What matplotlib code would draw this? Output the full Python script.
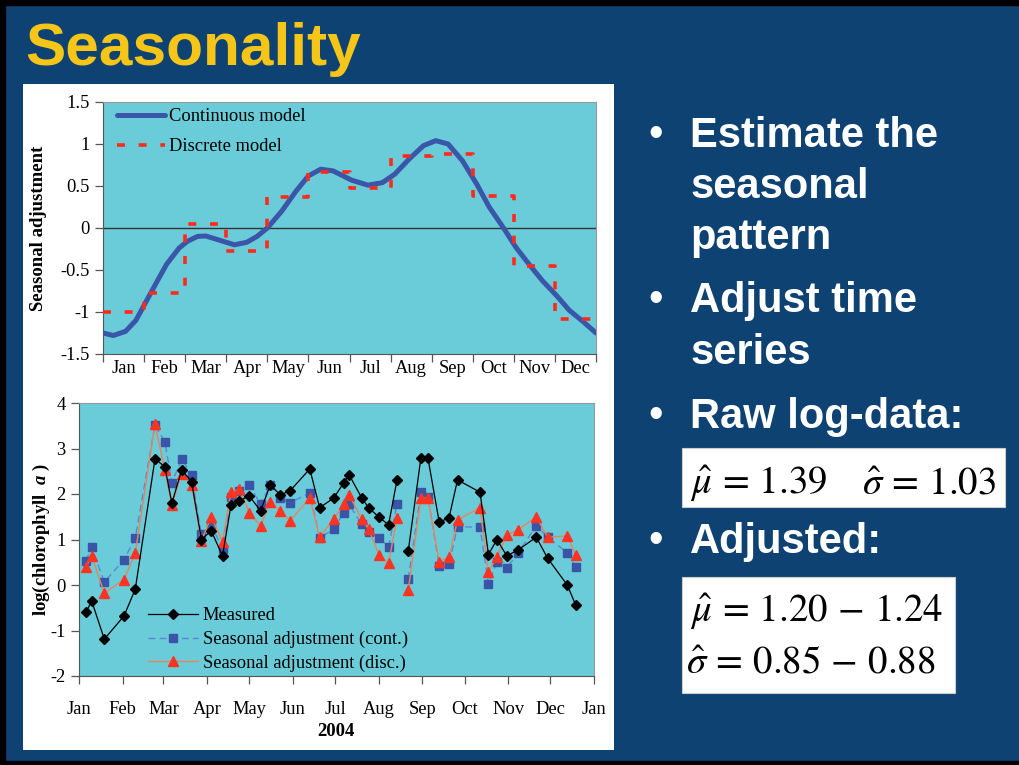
import matplotlib
matplotlib.use("Agg")
import matplotlib.pyplot as plt
import numpy as np
from matplotlib.patches import Rectangle

W, H = 1019, 765

SLIDE_BLUE = "#0E4273"
PLOT_CYAN = "#6ACCD8"
SERIF = "Liberation Serif"
SANS = "Liberation Sans"

MONTHS = ["Jan", "Feb", "Mar", "Apr", "May", "Jun",
          "Jul", "Aug", "Sep", "Oct", "Nov", "Dec"]

# --- top panel: seasonal pattern (x in months since 1 Jan) ---
SEAS_YTICKS = [-1.5, -1, -0.5, 0, 0.5, 1, 1.5]
SEAS_YLABELS = ["-1.5", "-1", "-0.5", "0", "0.5", "1", "1.5"]
CONT_X = [0.0, 0.25, 0.55, 0.8, 1.0, 1.3, 1.55, 1.85, 2.05, 2.3, 2.5, 2.8,
          3.2, 3.5, 3.75, 4.0, 4.35, 4.7, 5.0, 5.3, 5.6, 6.05, 6.45, 6.8,
          7.1, 7.45, 7.8, 8.1, 8.4, 8.75, 9.1, 9.4, 9.75, 10.05, 10.4, 10.7,
          11.05, 11.35, 11.7, 12.0]
CONT_Y = [-1.25, -1.28, -1.23, -1.10, -0.92, -0.65, -0.43, -0.24, -0.16, -0.10,
          -0.095, -0.14, -0.20, -0.17, -0.10, 0.0, 0.20, 0.44, 0.62, 0.70,
          0.68, 0.57, 0.51, 0.54, 0.64, 0.82, 0.98, 1.04, 1.00, 0.80,
          0.52, 0.25, 0.0, -0.23, -0.45, -0.63, -0.81, -0.98, -1.12, -1.25]
DISC_Y = [-1.0, -0.77, 0.05, -0.27, 0.37, 0.67, 0.48, 0.86, 0.88, 0.38, -0.45, -1.08]

# --- bottom panel: log chlorophyll a, 2004 (x = day of year) ---
MONTH_START = [0, 31, 60, 91, 121, 152, 182, 213, 244, 274, 305, 335, 366]
MONTH_TICKLABELS = MONTHS + ["Jan"]
DAYS = [5, 9, 18, 32, 40, 54, 61, 66, 73, 80, 87, 94, 102, 108, 114, 121, 129,
        136, 143, 150, 164, 171, 181, 188, 192, 201, 206, 213, 220, 226,
        234, 243, 248, 256, 263, 269, 285, 291, 297, 304, 312, 325, 333, 347, 353]
MEASURED = [-0.60, -0.35, -1.19, -0.68, -0.09, 2.77, 2.60, 1.80, 2.53, 2.27,
            1.00, 1.19, 0.64, 1.75, 1.85, 1.96, 1.63, 2.20, 1.98, 2.07, 2.55,
            1.70, 1.91, 2.24, 2.42, 1.91, 1.69, 1.50, 1.32, 2.31,
            0.75, 2.80, 2.79, 1.38, 1.48, 2.31, 2.04, 0.67, 1.00, 0.64, 0.77,
            1.05, 0.59, 0.0, -0.44]
ADJ_CONT = [0.53, 0.83, 0.06, 0.56, 1.03, 3.52, 3.15, 2.25, 2.77, 2.42,
            1.11, 1.32, 0.79, 1.94, 2.07, 2.19, 1.78, 2.20, 1.92, 1.81, 2.02,
            1.04, 1.22, 1.58, 1.77, 1.33, 1.16, 1.04, 0.84, 1.78,
            0.13, 2.04, 1.94, 0.42, 0.46, 1.28, 1.27, 0.02, 0.51, 0.37, 0.71,
            1.30, 1.05, 0.71, 0.40]
ADJ_DISC = [0.40, 0.64, -0.18, 0.12, 0.70, 3.54, 2.53, 1.75, 2.45, 2.20,
            0.97, 1.50, 0.95, 2.05, 2.11, 1.59, 1.30, 1.82, 1.63, 1.41, 1.91,
            1.06, 1.44, 1.77, 1.98, 1.44, 1.22, 0.67, 0.48, 1.48,
            -0.11, 1.91, 1.91, 0.51, 0.61, 1.43, 1.70, 0.29, 0.62, 1.10, 1.21,
            1.50, 1.05, 1.08, 0.66]
GAP = 30  # no samples between late Aug and early Sep
CHL_YTICKS = [-2, -1, 0, 1, 2, 3, 4]

BULLETS = [("Estimate the", 147, True), ("seasonal", 198, False), ("pattern", 249, False),
           ("Adjust time", 312, True), ("series", 364, False),
           ("Raw log-data:", 428, True), ("Adjusted:", 553, True)]

plt.rcParams["axes.unicode_minus"] = False
plt.rcParams["mathtext.fontset"] = "custom"
plt.rcParams["mathtext.it"] = "Liberation Serif:italic:bold"
plt.rcParams["mathtext.rm"] = "Liberation Serif:bold"


def fx(x):
    return x / W


def fy(y):
    return 1 - y / H


def style_axes(ax):
    ax.set_facecolor(PLOT_CYAN)
    for side in ["left", "bottom"]:
        ax.spines[side].set_color("#555555")
    for side in ["top", "right"]:
        ax.spines[side].set_color("#999999")
    ax.tick_params(which="both", direction="out", color="#555555", labelsize=13.3,
                   length=6, width=0.9)
    for lab in ax.get_xticklabels(which="both") + ax.get_yticklabels():
        lab.set_family(SERIF)


fig = plt.figure(figsize=(W / 100, H / 100), dpi=100)
fig.patch.set_facecolor(SLIDE_BLUE)

# slide frame and white chart panel
fig.add_artist(Rectangle((0, fy(5)), 1, 5 / H, transform=fig.transFigure,
                         color="black", zorder=-2))
fig.add_artist(Rectangle((0, 0), 5 / W, 1, transform=fig.transFigure,
                         color="black", zorder=-2))
fig.add_artist(Rectangle((0, 0), 1, 4 / H, transform=fig.transFigure,
                         color="black", zorder=-2))
fig.add_artist(Rectangle((fx(23), fy(750)), 591 / W, 666 / H, transform=fig.transFigure,
                         facecolor="white", edgecolor="none", zorder=-1))

fig.text(fx(25), fy(65), "Seasonality", family=SANS, weight="bold", size=43.5,
         color="#F5C518", va="baseline")

# ---------------- top chart ----------------
ax1 = fig.add_axes([fx(103), fy(354), 493 / W, 252 / H])
ax1.axhline(0, color="#333333", lw=1.0, zorder=1)
ax1.plot(CONT_X, CONT_Y, color="#3A56A8", lw=3.6, solid_capstyle="round",
         solid_joinstyle="round", label="Continuous model", zorder=3)
ax1.plot(np.arange(13), DISC_Y + DISC_Y[-1:], drawstyle="steps-post",
         color="#FF2A1A", lw=2.6, linestyle=(0, (2.2, 3.8)),
         label="Discrete model", zorder=4)
ax1.set_xlim(0, 12)
ax1.set_ylim(-1.5, 1.5)
ax1.set_yticks(SEAS_YTICKS)
ax1.set_yticklabels(SEAS_YLABELS)
ax1.set_xticks(np.arange(13))
ax1.set_xticklabels([])
ax1.set_xticks(np.arange(12) + 0.5, minor=True)
ax1.set_xticklabels(MONTHS, minor=True)
style_axes(ax1)
ax1.tick_params(axis="x", which="minor", length=0, pad=4)
ax1.legend(loc="upper left", bbox_to_anchor=(0.028, 0.975), frameon=False,
           prop={"family": SERIF, "size": 13.3}, handlelength=2.6,
           handletextpad=0.2, labelspacing=0.7, borderpad=0, borderaxespad=0)
fig.text(fx(39), fy(228), "Seasonal adjustment", family=SERIF, weight="bold",
         size=13.5, rotation=90, ha="center", va="center")

# ---------------- bottom chart ----------------
ax2 = fig.add_axes([fx(79), fy(676), 515 / W, 273 / H])
segs = [slice(0, GAP), slice(GAP, len(DAYS))]
for i, s in enumerate(segs):
    ax2.plot(DAYS[s], MEASURED[s], color="black", lw=0.9, marker="D", ms=5,
             mfc="black", mec="black", zorder=5,
             label="Measured" if i == 0 else None)
    ax2.plot(DAYS[s], ADJ_CONT[s], color="#5A88D0", lw=1.0, ls=(0, (5, 3)),
             marker="s", ms=5.5, mfc="#3A55A8", mec="#3A55A8", zorder=3,
             label="Seasonal adjustment (cont.)" if i == 0 else None)
    ax2.plot(DAYS[s], ADJ_DISC[s], color="#E8845A", lw=1.0, marker="^", ms=6.5,
             mfc="#FF3322", mec="#FF3322", zorder=4,
             label="Seasonal adjustment (disc.)" if i == 0 else None)
ax2.set_xlim(0, 366)
ax2.set_ylim(-2, 4)
ax2.set_yticks(CHL_YTICKS)
ax2.set_xticks(MONTH_START)
ax2.set_xticklabels(MONTH_TICKLABELS)
style_axes(ax2)
ax2.tick_params(axis="x", pad=12)
h, l = ax2.get_legend_handles_labels()
ax2.legend(h, l, loc="lower left", bbox_to_anchor=(0.134, 0.015), frameon=False,
           prop={"family": SERIF, "size": 13.3}, handlelength=2.7,
           handletextpad=0.25, labelspacing=0.35, borderpad=0, borderaxespad=0)

fig.text(fx(41), fy(540), r"log(chlorophyll  $a$ )", family=SERIF, weight="bold",
         size=13.5, rotation=90, ha="center", va="center", math_fontfamily="custom")
fig.text(fx(336), fy(731), "2004", family=SERIF, weight="bold", size=13.5,
         ha="center", va="center")

# ---------------- bullets ----------------
for txt, yb, dot in BULLETS:
    fig.text(fx(690), fy(yb), txt, family=SANS, weight="bold", size=30,
             color="white", va="baseline")
    if dot:
        fig.text(fx(656), fy(yb - 12), "\u2022", family=SANS, size=30,
                 color="white", ha="center", va="center")

fig.add_artist(Rectangle((fx(682), fy(507)), 323 / W, 59 / H, transform=fig.transFigure,
                         facecolor="white", edgecolor="#CCCCCC", lw=0.8))
fig.add_artist(Rectangle((fx(682), fy(693)), 273 / W, 116 / H, transform=fig.transFigure,
                         facecolor="white", edgecolor="#CCCCCC", lw=0.8))
eq_kw = dict(size=28, color="black", va="baseline", math_fontfamily="stix", zorder=3)
fig.text(fx(690), fy(494), r"$\hat{\mu}\,=\,1.39$", **eq_kw)
fig.text(fx(862), fy(494), r"$\hat{\sigma}\,=\,1.03$", **eq_kw)
fig.text(fx(690), fy(622), r"$\hat{\mu}\,=\,1.20\,-\,1.24$", **eq_kw)
fig.text(fx(686), fy(673), r"$\hat{\sigma}\,=\,0.85\,-\,0.88$", **eq_kw)

fig.savefig("out.png", dpi=100, facecolor=fig.get_facecolor())
